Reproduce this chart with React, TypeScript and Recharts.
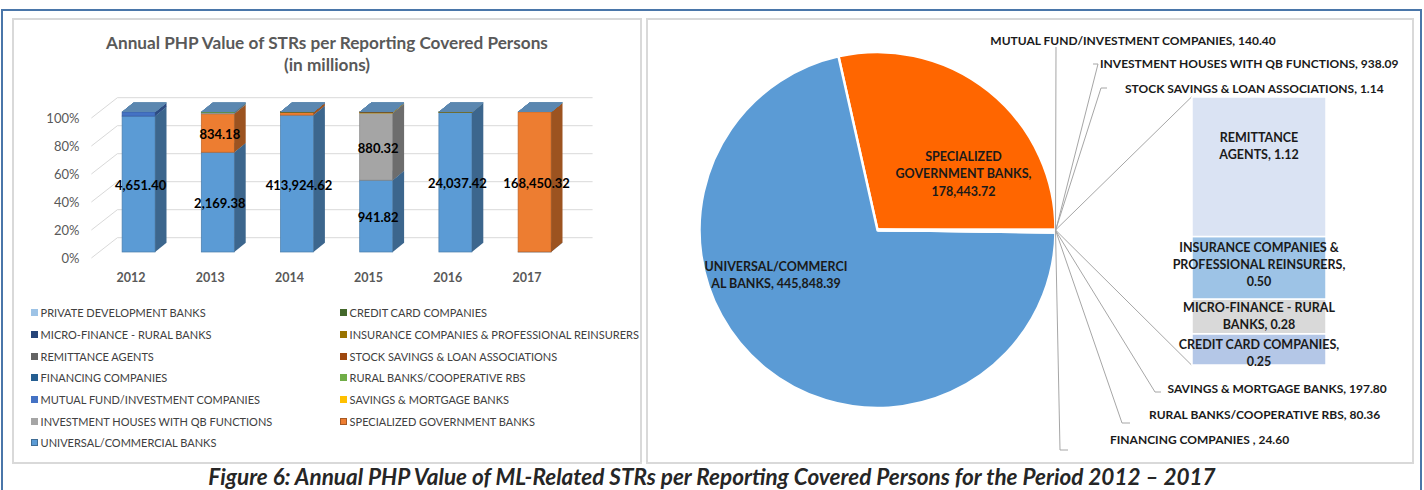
import React from "react";
import {
  BarChart,
  Bar,
  XAxis,
  YAxis,
  CartesianGrid,
  Legend,
  LabelList,
  PieChart,
  Pie,
  Cell,
} from "recharts";

// ---- data (PHP millions) ----
const years = ["2012", "2013", "2014", "2015", "2016", "2017"];

const universalBanks = [4651.4, 2169.38, 413924.62, 941.82, 24037.42, 123.75];
const specializedGovBanks = [0, 834.18, 9159.22, 0, 0, 168450.32];
const investmentHouses = [0, 30.0, 0, 880.32, 27.77, 0];
const savingsMortgageBanks = [0, 0, 150.0, 12.0, 35.8, 0];
const mutualFunds = [140.4, 0, 0, 0, 0, 0];
const ruralBanks = [0, 10.0, 70.36, 0, 0, 0];
const financingCompanies = [0, 0, 24.6, 0, 0, 0];
const stockSavings = [0, 0, 0, 1.14, 0, 0];
const remittanceAgents = [0, 0, 0, 0, 1.12, 0];
const insuranceCompanies = [0, 0, 0.5, 0, 0, 0];
const microFinance = [0, 0, 0, 0.28, 0, 0];
const creditCardCompanies = [0, 0, 0, 0, 0.25, 0];
const privateDevBanks = [0, 0, 0, 0, 0, 0];

// pie: totals 2012-2017
const pieNames = [
  "SPECIALIZED GOVERNMENT BANKS",
  "UNIVERSAL/COMMERCIAL BANKS",
  "MUTUAL FUND/INVESTMENT COMPANIES",
  "INVESTMENT HOUSES WITH QB FUNCTIONS",
  "STOCK SAVINGS & LOAN ASSOCIATIONS",
  "SAVINGS & MORTGAGE BANKS",
  "RURAL BANKS/COOPERATIVE RBS",
  "FINANCING COMPANIES ",
];
const pieValues = [178443.72, 445848.39, 140.4, 938.09, 1.14, 197.8, 80.36, 24.6];

// the "bar of pie" part
const splitNames = [
  "CREDIT CARD COMPANIES",
  "MICRO-FINANCE - RURAL BANKS",
  "INSURANCE COMPANIES & PROFESSIONAL REINSURERS",
  "REMITTANCE AGENTS",
];
const splitValues = [0.25, 0.28, 0.5, 1.12];

// ---- series (bottom of stack first) ----
const stackSeries = [
  { key: "universal", name: "UNIVERSAL/COMMERCIAL BANKS", values: universalBanks },
  { key: "specialized", name: "SPECIALIZED GOVERNMENT BANKS", values: specializedGovBanks },
  { key: "investment", name: "INVESTMENT HOUSES WITH QB FUNCTIONS", values: investmentHouses },
  { key: "savings", name: "SAVINGS & MORTGAGE BANKS", values: savingsMortgageBanks },
  { key: "mutual", name: "MUTUAL FUND/INVESTMENT COMPANIES", values: mutualFunds },
  { key: "rural", name: "RURAL BANKS/COOPERATIVE RBS", values: ruralBanks },
  { key: "financing", name: "FINANCING COMPANIES", values: financingCompanies },
  { key: "stock", name: "STOCK SAVINGS & LOAN ASSOCIATIONS", values: stockSavings },
  { key: "remittance", name: "REMITTANCE AGENTS", values: remittanceAgents },
  { key: "insurance", name: "INSURANCE COMPANIES & PROFESSIONAL REINSURERS", values: insuranceCompanies },
  { key: "micro", name: "MICRO-FINANCE - RURAL BANKS", values: microFinance },
  { key: "credit", name: "CREDIT CARD COMPANIES", values: creditCardCompanies },
  { key: "private", name: "PRIVATE DEVELOPMENT BANKS", values: privateDevBanks },
];

const seriesColors: Record<string, string> = {
  universal: "#5b9bd5",
  specialized: "#ed7d31",
  investment: "#a5a5a5",
  savings: "#ffc000",
  mutual: "#4472c4",
  rural: "#70ad47",
  financing: "#255e91",
  stock: "#9e480e",
  remittance: "#636363",
  insurance: "#997300",
  micro: "#264478",
  credit: "#43682b",
  private: "#9dc3e6",
};

const pieColors = ["#ff6600", "#5b9bd5", "#4472c4", "#a5a5a5", "#9e480e", "#ffc000", "#70ad47", "#255e91", "#dae3f3"];
const splitColors = ["#b4c7e7", "#d9d9d9", "#9dc3e6", "#dae3f3"];

const FONT = "Lato, 'Open Sans', sans-serif";
const GRID = "#d9d9d9";
const TOP_FACE = "#5b87b0";

// 3d look
const DX = 11.4;
const DY = 9.3;
const OFF_X = 7.7;
const OFF_Y = -6;
const GX = 26;
const GY = 20.3;

const fmt = (v: number) =>
  v.toLocaleString("en-US", { minimumFractionDigits: 2, maximumFractionDigits: 2 });

const shade = (hex: string, k: number) => {
  const n = parseInt(hex.slice(1), 16);
  const r = Math.round(((n >> 16) & 255) * k);
  const g = Math.round(((n >> 8) & 255) * k);
  const b = Math.round((n & 255) * k);
  return `rgb(${r},${g},${b})`;
};

const yearRows = years.map((year, i) => {
  const row: Record<string, any> = { year };
  stackSeries.forEach((s) => {
    row[s.key] = s.values[i];
  });
  return row;
});

const box3d = (color: string) => (p: any) => {
  const { x, y, width, height } = p;
  if (x == null || y == null) return null;
  const fx = x + OFF_X;
  const fy = y + OFF_Y;
  const h = Math.max(height, 0);
  return (
    <g>
      <rect x={fx} y={fy} width={width} height={h} fill={color} stroke={shade(color, 0.8)} strokeWidth={0.7} />
      <polygon
        points={`${fx + width},${fy + h} ${fx + width + DX},${fy + h - DY} ${fx + width + DX},${fy - DY} ${fx + width},${fy}`}
        fill={shade(color, 0.66)}
      />
      <polygon
        points={`${fx},${fy} ${fx + DX},${fy - DY} ${fx + width + DX},${fy - DY} ${fx + width},${fy}`}
        fill={TOP_FACE}
      />
    </g>
  );
};

const segmentLabel = (p: any) => {
  const { x, y, width, height, value } = p;
  if (height < 14) return null;
  return (
    <text
      x={x + OFF_X + width / 2 + 2}
      y={y + OFF_Y + height / 2 + 1}
      textAnchor="middle"
      dominantBaseline="central"
      fontFamily={FONT}
      fontWeight={700}
      fontSize={13}
      fill="#000"
    >
      {fmt(Number(value))}
    </text>
  );
};

const gridLine = (p: any) => {
  const { x1, y1, x2, key } = p;
  return (
    <polyline
      key={key}
      points={`${x1},${y1} ${x1 + GX},${y1 - GY} ${x2 + GX},${y1 - GY}`}
      fill="none"
      stroke={GRID}
      strokeWidth={1}
    />
  );
};

const renderLegend = (props: any) => {
  const order = (k: string) => stackSeries.findIndex((s) => s.key === k);
  const items = [...(props.payload || [])].sort((a: any, b: any) => order(b.dataKey) - order(a.dataKey));
  return (
    <div style={{ display: "grid", gridTemplateColumns: "309px 300px", fontFamily: FONT }}>
      {items.map((it: any) => (
        <div
          key={it.dataKey}
          style={{ height: 21.7, display: "flex", alignItems: "center", fontSize: 11, color: "#404040", whiteSpace: "nowrap" }}
        >
          <span
            style={{
              display: "inline-block",
              width: 7,
              height: 7,
              marginRight: 3,
              background: it.color,
              boxSizing: "border-box",
              border: it.dataKey === "universal" || it.dataKey === "specialized" ? `1px solid ${shade(it.color, 0.7)}` : "none",
            }}
          />
          {it.value}
        </div>
      ))}
    </div>
  );
};

function YearChart() {
  return (
    <BarChart
      width={629}
      height={445}
      data={yearRows}
      stackOffset="expand"
      barSize={33}
      margin={{ top: 100, right: 74.4, bottom: 175, left: 19.4 }}
    >
      <CartesianGrid vertical={false} horizontal={gridLine} />
      <XAxis
        dataKey="year"
        height={30}
        axisLine={false}
        tickLine={false}
        tickSize={0}
        tickMargin={15}
        tick={{ fontSize: 12.5, fontWeight: 700, fill: "#595959", fontFamily: FONT }}
      />
      <YAxis
        width={60}
        ticks={[0, 0.2, 0.4, 0.6, 0.8, 1]}
        tickFormatter={(v: number) => `${Math.round(v * 100)}%`}
        axisLine={false}
        tickLine={false}
        tickSize={0}
        tickMargin={12}
        tick={{ fontSize: 13, fill: "#595959", fontFamily: FONT }}
      />
      <Legend
        layout="horizontal"
        verticalAlign="middle"
        align="center"
        wrapperStyle={{ left: 18.6, top: 284, width: 620 }}
        content={renderLegend}
      />
      {stackSeries.map((s) => (
        <Bar
          key={s.key}
          dataKey={s.key}
          name={s.name}
          stackId="a"
          fill={seriesColors[s.key]}
          shape={box3d(seriesColors[s.key])}
          isAnimationActive={false}
        >
          <LabelList dataKey={s.key} content={segmentLabel} />
        </Bar>
      ))}
    </BarChart>
  );
}

// ---- pie of bar ----
const otherTotal = splitValues.reduce((a, b) => a + b, 0);
const pieRows = [
  ...pieNames.map((name, i) => ({ name, value: pieValues[i] })),
  { name: "Other", value: otherTotal },
];
const splitRow: Record<string, any> = { name: "Other" };
splitNames.forEach((n, i) => {
  splitRow[`s${i}`] = splitValues[i];
});

// the stacked bar box in the right panel coordinates
const SPLIT_BOX = { x: 545.5, y: 79, w: 133.5, h: 268 };
const LABEL_SIZE = 12.5;
const LEADER_SIZE = 12;

const wrap = (text: string, breaks: number[]) => {
  const cuts = [0, ...breaks, text.length];
  const out: string[] = [];
  for (let i = 0; i < cuts.length - 1; i++) out.push(text.slice(cuts[i], cuts[i + 1]).trim());
  return out;
};

const pieLabelLayout: Record<string, any> = {
  "SPECIALIZED GOVERNMENT BANKS": { x: 317.5, y: 138, anchor: "middle", breaks: [11, 29] },
  "UNIVERSAL/COMMERCIAL BANKS": { x: 130, y: 248, anchor: "middle", breaks: [18] },
  "MUTUAL FUND/INVESTMENT COMPANIES": { x: 487, y: 22, anchor: "middle", breaks: [], leader: [[410, 29]] },
  "INVESTMENT HOUSES WITH QB FUNCTIONS": { x: 454, y: 45, anchor: "start", breaks: [], leader: [[452, 46], [447, 46]] },
  "STOCK SAVINGS & LOAN ASSOCIATIONS": { x: 479, y: 70, anchor: "start", breaks: [], leader: [[455, 70], [461, 70]] },
  "SAVINGS & MORTGAGE BANKS": { x: 521.5, y: 370, anchor: "start", breaks: [], leader: [[509, 374], [515, 374]] },
  "RURAL BANKS/COOPERATIVE RBS": { x: 503, y: 396, anchor: "start", breaks: [], leader: [[476, 405], [484, 405]] },
  "FINANCING COMPANIES ": { x: 464, y: 421, anchor: "start", breaks: [], leader: [[414, 432], [422, 432]] },
};

const renderPieLabel = (p: any) => {
  const name = p.payload?.name ?? p.name;
  const RAD = Math.PI / 180;
  const sx = p.cx + p.outerRadius * Math.cos(-p.midAngle * RAD);
  const sy = p.cy + p.outerRadius * Math.sin(-p.midAngle * RAD);
  if (name === "Other") {
    return (
      <g>
        <line x1={sx} y1={sy} x2={SPLIT_BOX.x} y2={SPLIT_BOX.y} stroke="#a6a6a6" strokeWidth={1} />
        <line x1={sx} y1={sy} x2={SPLIT_BOX.x} y2={SPLIT_BOX.y + SPLIT_BOX.h} stroke="#a6a6a6" strokeWidth={1} />
      </g>
    );
  }
  const lay = pieLabelLayout[name];
  if (!lay) return null;
  const lines = wrap(`${name}, ${fmt(p.value)}`, lay.breaks);
  return (
    <g>
      {lay.leader && (
        <polyline
          points={[[sx, sy], ...lay.leader].map((q: number[]) => q.join(",")).join(" ")}
          fill="none"
          stroke="#a6a6a6"
          strokeWidth={1}
        />
      )}
      {lines.map((ln, i) => (
        <text
          key={i}
          x={lay.x}
          y={lay.y + i * 17.5}
          textAnchor={lay.anchor}
          dominantBaseline="central"
          fontFamily={FONT}
          fontWeight={700}
          fontSize={lay.leader ? LEADER_SIZE : LABEL_SIZE}
          fill="#1a1a1a"
        >
          {ln}
        </text>
      ))}
    </g>
  );
};

const splitLabelLayout = [
  { breaks: [22], dy: 4 },
  { breaks: [21], dy: 0 },
  { breaks: [21, 46], dy: -3 },
  { breaks: [10], dy: -21 },
];

const splitLabel = (i: number) => (p: any) => {
  const { x, y, width, height } = p;
  const lay = splitLabelLayout[i];
  const lines = wrap(`${splitNames[i]}, ${fmt(splitValues[i])}`, lay.breaks);
  const cy = y + height / 2 + lay.dy - ((lines.length - 1) * 17) / 2;
  return (
    <g>
      {lines.map((ln, k) => (
        <text
          key={k}
          x={x + width / 2}
          y={cy + k * 17}
          textAnchor="middle"
          dominantBaseline="central"
          fontFamily={FONT}
          fontWeight={700}
          fontSize={LABEL_SIZE}
          fill="#1a1a1a"
        >
          {ln}
        </text>
      ))}
    </g>
  );
};

function PieOfBar() {
  return (
    <div style={{ position: "relative", width: 767, height: 445 }}>
      <div style={{ position: "absolute", left: 0, top: 0 }}>
        <PieChart width={767} height={445} margin={{ top: 0, right: 0, bottom: 0, left: 0 }}>
          <Pie
            data={pieRows}
            dataKey="value"
            nameKey="name"
            cx={231.5}
            cy={212}
            outerRadius={178}
            startAngle={0}
            endAngle={360}
            stroke="#ffffff"
            strokeWidth={2.5}
            label={renderPieLabel}
            labelLine={false}
            isAnimationActive={false}
          >
            {pieRows.map((r, i) => (
              <Cell key={r.name} fill={pieColors[i]} />
            ))}
          </Pie>
        </PieChart>
      </div>
      <div style={{ position: "absolute", left: SPLIT_BOX.x - 70, top: SPLIT_BOX.y }}>
        <BarChart
          width={SPLIT_BOX.w + 140}
          height={SPLIT_BOX.h + 24}
          data={[splitRow]}
          barCategoryGap={0}
          margin={{ top: 0, right: 70, bottom: 24, left: 70 }}
        >
          <XAxis dataKey="name" hide />
          <YAxis hide domain={[0, otherTotal]} />
          {splitNames.map((n, i) => (
            <Bar
              key={n}
              dataKey={`s${i}`}
              name={n}
              stackId="b"
              fill={splitColors[i]}
              stroke="#ffffff"
              strokeWidth={1.5}
              isAnimationActive={false}
            >
              <LabelList dataKey={`s${i}`} content={splitLabel(i)} />
            </Bar>
          ))}
        </BarChart>
      </div>
    </div>
  );
}

export default function App() {
  return (
    <div style={{ position: "relative", width: 1424, height: 490, overflow: "hidden", background: "#fff", fontFamily: FONT }}>
      <style>{`body { margin: 0; }`}</style>
      <div
        style={{
          position: "absolute",
          left: 1,
          top: 9,
          width: 1421,
          height: 500,
          border: "2px solid #4a76a9",
          boxSizing: "border-box",
        }}
      />
      <div
        style={{
          position: "absolute",
          left: 12,
          top: 18,
          width: 630,
          height: 446,
          border: `2px solid ${GRID}`,
          boxSizing: "border-box",
        }}
      />
      <div
        style={{
          position: "absolute",
          left: 646,
          top: 18,
          width: 768,
          height: 446,
          border: `2px solid ${GRID}`,
          boxSizing: "border-box",
        }}
      />
      <div
        style={{
          position: "absolute",
          left: 12,
          top: 32,
          width: 630,
          textAlign: "center",
          fontWeight: 700,
          fontSize: 17.2,
          lineHeight: "22px",
          color: "#595959",
        }}
      >
        Annual PHP Value of STRs per Reporting Covered Persons
        <br />
        (in millions)
      </div>
      <div style={{ position: "absolute", left: 12, top: 18 }}>
        <YearChart />
      </div>
      <div style={{ position: "absolute", left: 646, top: 18 }}>
        <PieOfBar />
      </div>
      <div
        style={{
          position: "absolute",
          left: 0,
          top: 464,
          width: 1424,
          textAlign: "center",
          fontWeight: 700,
          fontStyle: "italic",
          fontSize: 22.5,
          lineHeight: "26px",
          color: "#262626",
        }}
      >
        Figure 6: Annual PHP Value of ML-Related STRs per Reporting Covered Persons for the Period 2012 – 2017
      </div>
    </div>
  );
}
